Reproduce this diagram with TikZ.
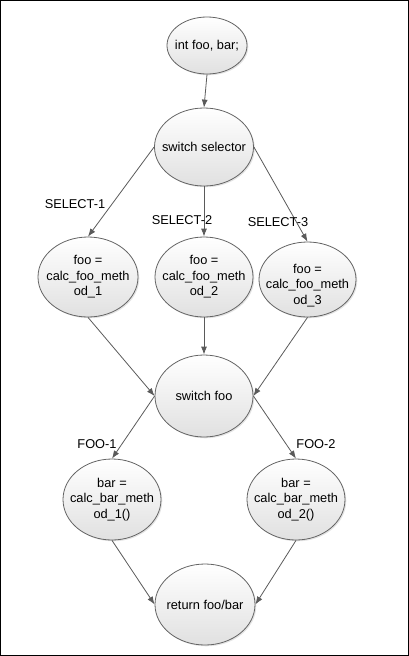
\documentclass[tikz,border=0pt]{standalone}
\usepackage{fontspec}
\setmainfont{Liberation Sans}
\usetikzlibrary{shapes.geometric,arrows.meta,shadows}
\definecolor{edgegray}{RGB}{90,90,90}
\definecolor{bordgray}{RGB}{100,100,100}
\begin{document}
\begin{tikzpicture}[x=1pt,y=-1pt,
  font=\fontsize{12.8}{15.5}\selectfont,
  ell/.style={ellipse, draw=bordgray, line width=0.8pt, top color=white, bottom color=black!12,
    drop shadow={opacity=0.22, shadow xshift=1.3pt, shadow yshift=-1.3pt}, inner sep=0pt},
  txt/.style={align=center, inner sep=0pt},
  conn/.style={draw=edgegray, line width=0.8pt, -{Latex[length=8pt,width=6pt]}},
  lbl/.style={inner sep=0pt}
]
\useasboundingbox (0,0) rectangle (409,656);
\draw[line width=1pt] (0.5,0.5) rectangle (408.5,655.5);

\node[ell, minimum width=80pt, minimum height=57pt, label={[txt]center:{int foo, bar;}}] (n1) at (207,45.5) {};
\node[ell, minimum width=99pt, minimum height=78pt, label={[txt]center:{switch selector}}] (n2) at (204,147) {};
\node[ell, minimum width=100pt, minimum height=80pt, label={[txt]center:{foo =\\calc\_foo\_meth\\od\_1}}] (n3) at (88,277) {};
\node[ell, minimum width=98pt, minimum height=80pt, label={[txt]center:{foo =\\calc\_foo\_meth\\od\_2}}] (n4) at (204,277) {};
\node[ell, minimum width=97pt, minimum height=75pt, label={[txt,yshift=-6pt]center:{foo =\\calc\_foo\_meth\\od\_3}}] (n5) at (307.5,279.5) {};
\node[ell, minimum width=98pt, minimum height=82pt, label={[txt]center:{switch foo}}] (n6) at (204,396) {};
\node[ell, minimum width=98pt, minimum height=81pt, label={[txt]center:{bar =\\calc\_bar\_meth\\od\_1()}}] (n7) at (112,499.5) {};
\node[ell, minimum width=98pt, minimum height=81pt, label={[txt]center:{bar =\\calc\_bar\_meth\\od\_2()}}] (n8) at (296,499.5) {};
\node[ell, minimum width=100pt, minimum height=81pt, label={[txt]center:{return foo/bar}}] (n9) at (205,604.5) {};

\draw[conn] (n1.south) -- (n2.north);
\draw[conn] (n2.west) -- (n3.north);
\draw[conn] (n2.south) -- (n4.north);
\draw[conn] (n2.east) -- (n5.north);
\draw[conn] (n3.south) -- (n6.west);
\draw[conn] (n4.south) -- (n6.north);
\draw[conn] (n5.south) -- (n6.east);
\draw[conn] (n6.west) -- (n7.north);
\draw[conn] (n6.east) -- (n8.north);
\draw[conn] (n7.south) -- (n9.west);
\draw[conn] (n8.south) -- (n9.east);

\node[lbl] (s1) at (75,204) {SELECT-1};
\node[lbl] (s2) at (182,220) {SELECT-2};
\node[lbl] (s3) at (278,222) {SELECT-3};
\node[lbl] (f1) at (97,444) {FOO-1};
\node[lbl] (f2) at (316,444) {FOO-2};
\end{tikzpicture}
\end{document}
